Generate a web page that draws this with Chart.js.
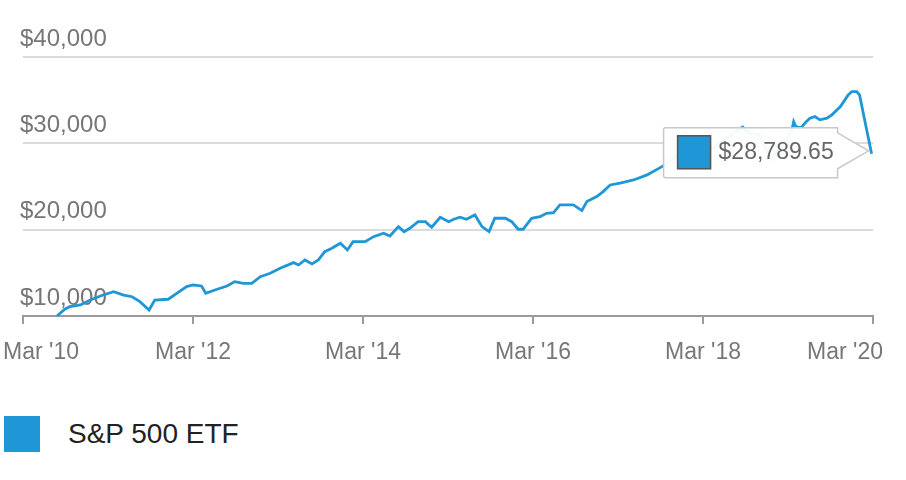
<!DOCTYPE html>
<html>
<head>
<meta charset="utf-8">
<script src="https://cdn.jsdelivr.net/npm/chart.js@4.4.1/dist/chart.umd.min.js"></script>
<style>
  html, body { margin: 0; padding: 0; background: #fff; }
  #wrap { position: relative; width: 906px; height: 480px; font-family: "Liberation Sans", Arial, sans-serif; }
  #wrap canvas { position: absolute; left: 0; top: 0; }
  .legend { position: absolute; left: 4px; top: 416px; display: flex; align-items: center; }
  .legend .box { width: 36px; height: 36px; background: #1f96d5; }
  .legend .txt { margin-left: 28px; font-size: 28px; color: #222; line-height: 36px; }
</style>
</head>
<body>
<div id="wrap">
  <canvas id="grafico" width="906" height="400"></canvas>
  <div class="legend"><div class="box"></div><div class="txt">S&amp;P 500 ETF</div></div>
</div>
<script>
// meses contados a partir de Mar '10
const months = [4.8, 5.9, 6.6, 8.1, 9.5, 11.3, 12.8, 14.2, 15.4, 16.5,
  17.8, 18.6, 20.5, 21.7, 23.1, 24.0, 25.2, 25.8, 27.4, 28.8,
  29.9, 31.1, 32.3, 33.5, 34.9, 36.3, 38.2, 38.9, 39.8, 40.8,
  41.7, 42.6, 43.6, 44.8, 45.8, 46.6, 48.3, 49.5, 50.9, 51.8,
  53.0, 53.8, 54.6, 55.8, 56.8, 57.7, 58.9, 60.1, 60.8, 61.7,
  62.6, 63.8, 64.8, 65.8, 66.6, 68.1, 69.0, 69.9, 70.6, 71.8,
  73.0, 73.9, 74.9, 75.8, 77.7, 78.9, 79.6, 81.0, 81.9, 82.9,
  84.3, 86.2, 88.1, 90.2, 92, 94, 95, 96, 97, 99,
  101, 101.6, 102.5, 104, 105.5, 107, 108.5, 108.8, 109.1, 109.8,
  110.6, 111.1, 111.8, 112.5, 113.5, 114.2, 115.4, 116.5, 117.0, 117.7,
  118.1, 119.8];
const values = [10000, 10780, 11080, 11280, 11850, 12430, 12820, 12430, 12230, 11660,
  10700, 11850, 11940, 12630, 13400, 13590, 13480, 12630, 13100, 13480,
  13980, 13790, 13790, 14560, 14950, 15530, 16180, 15910, 16490, 16030,
  16490, 17450, 17850, 18430, 17650, 18610, 18610, 19190, 19590, 19270,
  20350, 19770, 20160, 20930, 20930, 20280, 21440, 20930, 21210, 21440,
  21210, 21710, 20350, 19770, 21320, 21320, 20930, 20050, 20050, 21320,
  21510, 21900, 21970, 22870, 22870, 22210, 23250, 23830, 24410, 25180,
  25380, 25760, 26340, 27300, 28310, 29700, 30170, 29010, 29240, 30400,
  31560, 31900, 31210, 30980, 28080, 29820, 31330, 32520, 31940, 31790,
  32520, 32910, 33100, 32720, 32910, 33300, 34260, 35610, 36000, 36000,
  35610, 28789.65];
const tickLabels = ["Mar '10", "Mar '12", "Mar '14", "Mar '16", "Mar '18", "Mar '20"];
const seriesName = "S&P 500 ETF";

const AZUL = "#1f96d5";
const FONTE = '"Liberation Sans", Arial, sans-serif';
const fmtDolar = v => "$" + v.toLocaleString("en-US", { minimumFractionDigits: 0, maximumFractionDigits: 2 });

// rótulos do eixo x, presos dentro do canvas como no original
const rotulosX = {
  id: "rotulosX",
  afterDraw(chart) {
    const { ctx, scales: { x } } = chart;
    ctx.save();
    ctx.font = "23px " + FONTE;
    ctx.fillStyle = "#777";
    ctx.textBaseline = "alphabetic";
    x.ticks.forEach((t, i) => {
      const txt = tickLabels[i];
      if (!txt) return;
      const w = ctx.measureText(txt).width;
      const px = x.getPixelForValue(t.value);
      const lx = Math.min(Math.max(px - w / 2, 3), 883 - w);
      ctx.fillText(txt, lx, 359);
    });
    ctx.restore();
  }
};

// balão com o último valor
const balao = {
  id: "balao",
  afterDatasetsDraw(chart) {
    const { ctx, scales: { x, y } } = chart;
    const i = months.length - 1;
    const px = x.getPixelForValue(months[i]);
    const py = y.getPixelForValue(values[i]) - 3;
    const tip = px - 3, right = tip - 31, left = right - 174;
    const top = py - 23, bottom = py + 27;
    ctx.save();
    ctx.beginPath();
    ctx.moveTo(left + 2, top);
    ctx.lineTo(right, top);
    ctx.lineTo(right, py - 18);
    ctx.lineTo(tip, py);
    ctx.lineTo(right, py + 18);
    ctx.lineTo(right, bottom);
    ctx.lineTo(left + 2, bottom);
    ctx.quadraticCurveTo(left, bottom, left, bottom - 2);
    ctx.lineTo(left, top + 2);
    ctx.quadraticCurveTo(left, top, left + 2, top);
    ctx.closePath();
    ctx.fillStyle = "rgba(255,255,255,0.95)";
    ctx.fill();
    ctx.strokeStyle = "#c8c8c8";
    ctx.lineWidth = 1.5;
    ctx.stroke();

    ctx.fillStyle = AZUL;
    ctx.fillRect(left + 14, top + 8, 33, 33);
    ctx.strokeStyle = "#555";
    ctx.lineWidth = 1.5;
    ctx.strokeRect(left + 14, top + 8, 33, 33);

    ctx.font = "23px " + FONTE;
    ctx.fillStyle = "#666";
    ctx.textBaseline = "alphabetic";
    ctx.fillText(fmtDolar(values[i]), left + 55, top + 31);
    ctx.restore();
  }
};

new Chart(document.getElementById("grafico"), {
  type: "line",
  data: {
    datasets: [{
      label: seriesName,
      data: months.map((m, i) => ({ x: m, y: values[i] })),
      borderColor: AZUL,
      borderWidth: 2.8,
      pointRadius: 0,
      tension: 0,
      fill: false
    }]
  },
  options: {
    responsive: false,
    animation: false,
    layout: { padding: { left: 23, right: 33, top: 57, bottom: 76 } },
    plugins: { legend: { display: false }, tooltip: { enabled: false } },
    scales: {
      x: {
        type: "linear", min: 0, max: 120,
        ticks: { stepSize: 24, display: false },
        grid: { drawOnChartArea: false, drawTicks: true, tickLength: 8, color: "#9a9a9a", lineWidth: 2 },
        border: { display: true, color: "#9a9a9a", width: 2 }
      },
      y: {
        min: 10000, max: 40000,
        ticks: {
          stepSize: 10000, mirror: true, padding: -1, labelOffset: -18,
          color: "#767676", font: { family: FONTE, size: 24 },
          callback: v => fmtDolar(v)
        },
        grid: {
          drawTicks: false, lineWidth: 2,
          color: c => c.tick && c.tick.value === 10000 ? "rgba(0,0,0,0)" : "#dcdcdc"
        },
        border: { display: false }
      }
    }
  },
  plugins: [rotulosX, balao]
});
</script>
</body>
</html>
